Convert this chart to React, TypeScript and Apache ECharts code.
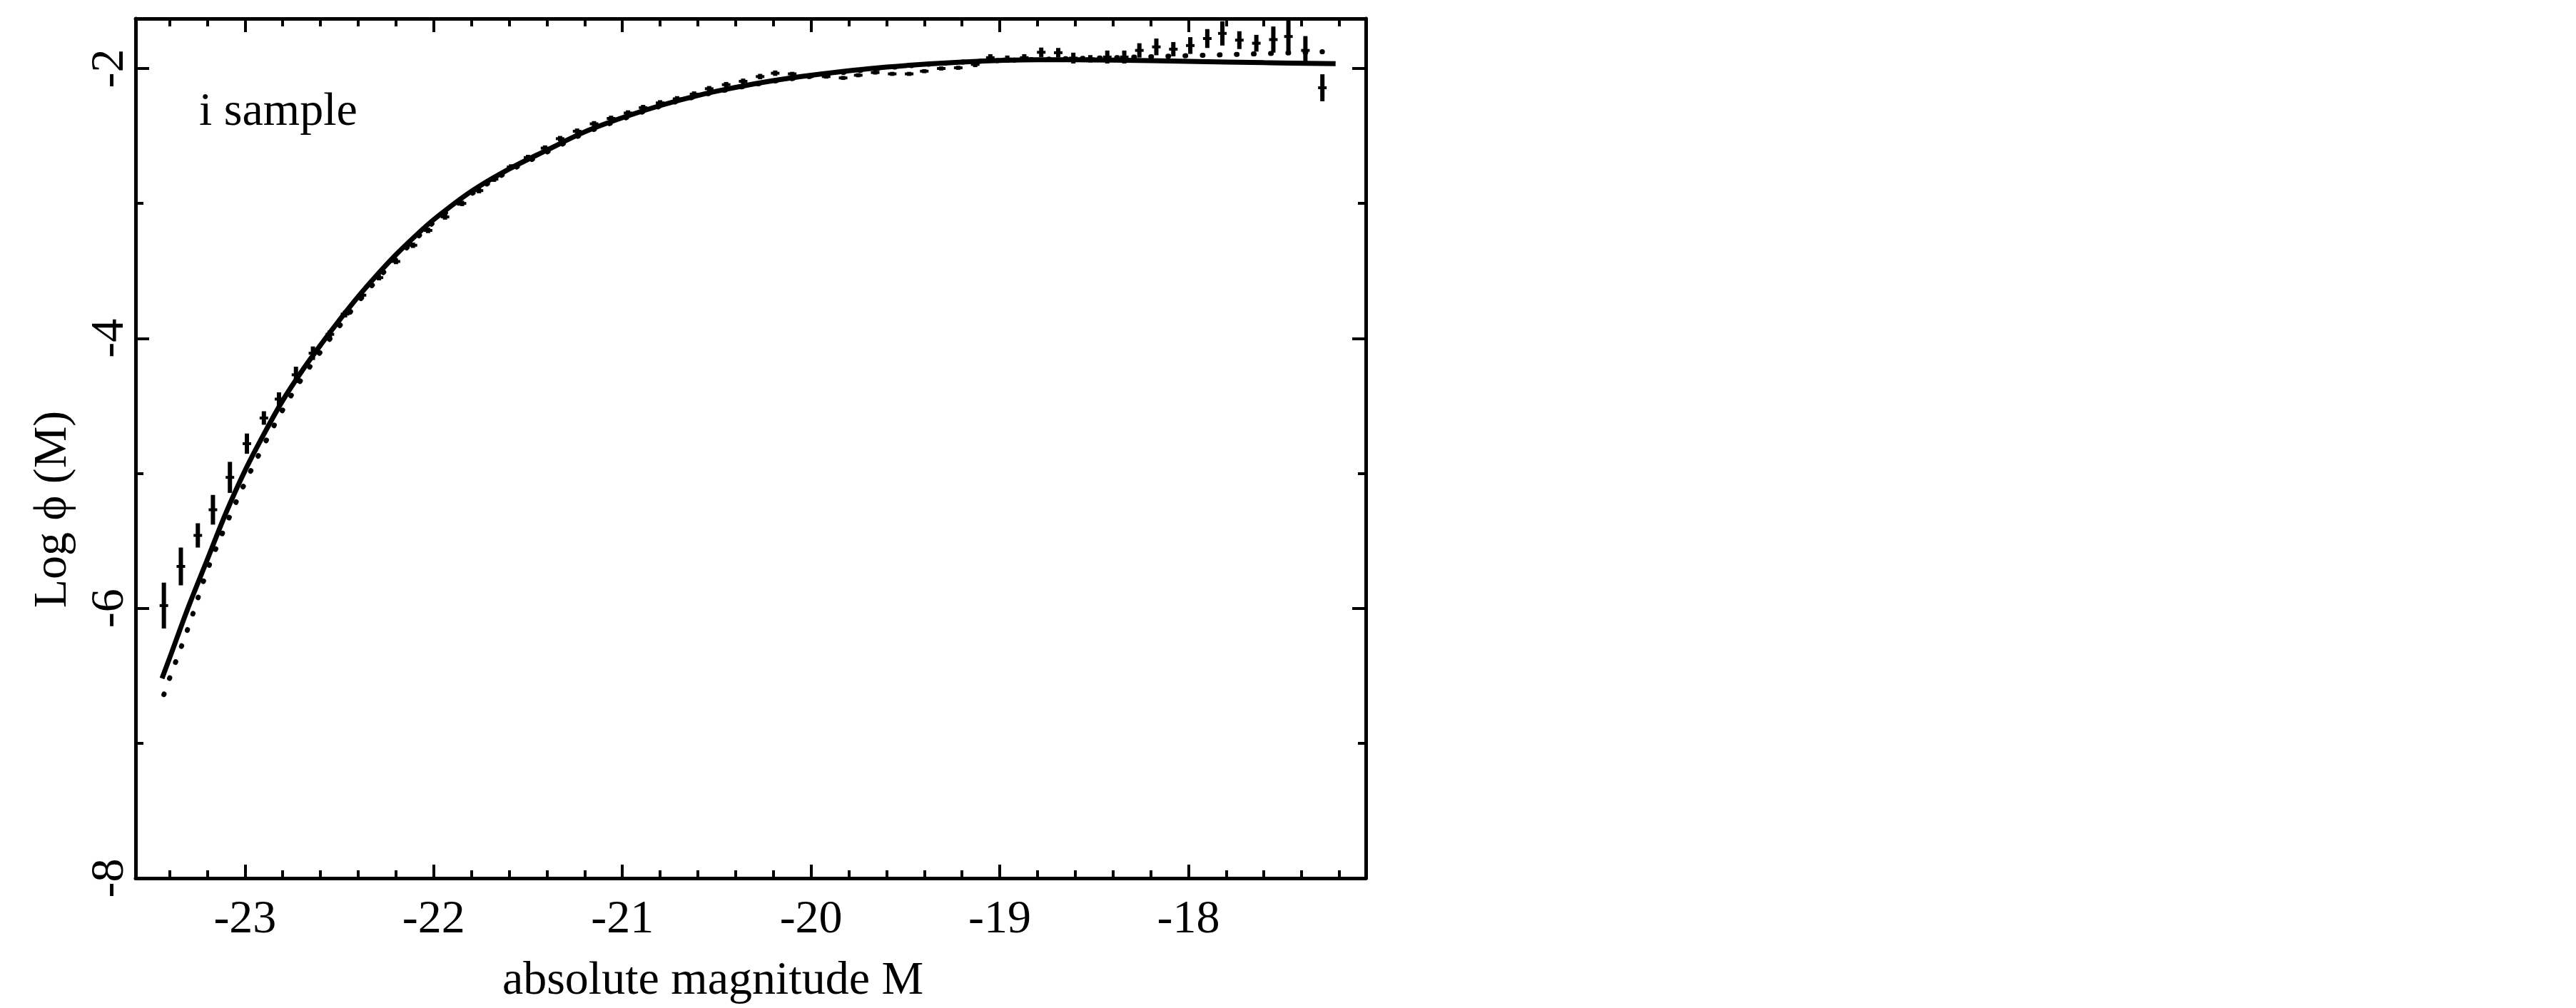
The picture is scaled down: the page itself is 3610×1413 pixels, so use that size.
import React, { useEffect, useRef } from "react";
import * as echarts from "echarts";

// ---------- data ----------
const xMin = -23.58;
const xMax = -17.06;
const yMin = -8;
const yMax = -1.63;

const xMajorTicks = [-23, -22, -21, -20, -19, -18];
const xMinorTicks = [
  -23.4, -23.2, -22.8, -22.6, -22.4, -22.2, -21.8, -21.6, -21.4, -21.2, -20.8, -20.6, -20.4,
  -20.2, -19.8, -19.6, -19.4, -19.2, -18.8, -18.6, -18.4, -18.2, -17.8, -17.6, -17.4, -17.2,
];
const yMajorTicks = [-8, -6, -4, -2];
const yMinorTicks = [-7, -5, -3];

// solid fit curve
const solidX = [
  -23.44, -23.4, -23.3, -23.2, -23.1, -23.0, -22.9, -22.8, -22.7, -22.6, -22.5, -22.4, -22.3, -22.2,
  -22.1, -22.0, -21.8, -21.6, -21.4, -21.2, -21.0, -20.8, -20.6, -20.4, -20.2, -20.0, -19.6, -19.2,
  -18.8, -18.4, -18.0, -17.6, -17.22,
];
const solidY = [
  -6.52, -6.37, -5.99, -5.64, -5.29, -4.98, -4.71, -4.46, -4.245, -4.05, -3.865, -3.69, -3.53, -3.38,
  -3.245, -3.12, -2.91, -2.745, -2.605, -2.47, -2.365, -2.275, -2.2, -2.14, -2.09, -2.05, -1.99,
  -1.952, -1.935, -1.938, -1.947, -1.957, -1.965,
];

// dotted fit curve
const dottedX = [
  -23.43, -23.4, -23.3, -23.2, -23.1, -23.0, -22.9, -22.8, -22.7, -22.6, -22.5, -22.4, -22.3, -22.2,
  -22.1, -22.0, -21.8, -21.6, -21.4, -21.2, -21.0, -20.8, -20.6, -20.4, -20.2, -20.0, -19.6, -19.2,
  -18.8, -18.4, -18.0, -17.6, -17.29,
];
const dottedY = [
  -6.64, -6.52, -6.14, -5.72, -5.38, -5.07, -4.79, -4.53, -4.3, -4.1, -3.91, -3.73, -3.565, -3.41,
  -3.27, -3.14, -2.93, -2.76, -2.62, -2.48, -2.375, -2.28, -2.205, -2.145, -2.095, -2.058, -1.995,
  -1.953, -1.933, -1.92, -1.905, -1.89, -1.876,
];

// data points with vertical error bars
const pointX = [
  -23.43, -23.34, -23.25, -23.17, -23.08, -22.99, -22.9, -22.82, -22.73, -22.64, -22.55, -22.47,
  -22.38, -22.29, -22.2, -22.11, -22.03, -21.94, -21.85, -21.76, -21.68, -21.59, -21.5, -21.41,
  -21.33, -21.24, -21.15, -21.06, -20.97, -20.89, -20.8, -20.71, -20.62, -20.54, -20.45, -20.36,
  -20.27, -20.19, -20.1, -20.01, -19.92, -19.83, -19.75, -19.66, -19.57, -19.48, -19.4, -19.31,
  -19.22, -19.13, -19.05, -18.96, -18.87, -18.78, -18.69, -18.61, -18.52, -18.43, -18.34, -18.26,
  -18.17, -18.08, -17.99, -17.9, -17.82, -17.73, -17.64, -17.55, -17.47, -17.38, -17.29,
];
const pointY = [
  -5.98, -5.69, -5.46, -5.27, -5.03, -4.78, -4.59, -4.45, -4.27, -4.11, -3.97, -3.82, -3.68, -3.55,
  -3.43, -3.31, -3.2, -3.1, -3.0, -2.905, -2.82, -2.73, -2.66, -2.59, -2.52, -2.465, -2.41, -2.37,
  -2.33, -2.29, -2.255, -2.225, -2.19, -2.15, -2.12, -2.095, -2.06, -2.035, -2.04, -2.06, -2.06,
  -2.07, -2.05, -2.03, -2.04, -2.04, -2.02, -2.0, -1.995, -1.97, -1.92, -1.93, -1.92, -1.88, -1.883,
  -1.923, -1.928, -1.915, -1.915, -1.866, -1.84, -1.857, -1.83, -1.778, -1.74, -1.79, -1.813,
  -1.786, -1.763, -1.866, -2.143,
];
const pointErr = [
  0.17, 0.14, 0.09, 0.11, 0.115, 0.075, 0.05, 0.05, 0.06, 0.05, 0.03, 0.025, 0.025, 0.02, 0.02, 0.02,
  0.02, 0.02, 0.02, 0.02, 0.02, 0.02, 0.02, 0.02, 0.02, 0.02, 0.02, 0.02, 0.02, 0.02, 0.02, 0.02,
  0.02, 0.02, 0.02, 0.02, 0.02, 0.02, 0.015, 0.015, 0.015, 0.015, 0.015, 0.015, 0.015, 0.015, 0.015,
  0.015, 0.015, 0.02, 0.026, 0.026, 0.026, 0.035, 0.035, 0.04, 0.027, 0.048, 0.048, 0.053, 0.062,
  0.053, 0.062, 0.07, 0.09, 0.066, 0.062, 0.097, 0.12, 0.106, 0.1,
];

const xTitle = "absolute magnitude M";
const yTitle = "Log \u03d5 (M)";
const sampleLabel = "i sample";

// ---------- style ----------
const FONT = "'Liberation Serif', 'Times New Roman', 'DejaVu Serif', serif";
const INK = "#000";
const FS = 66;

const frameAxis = (pos: string, ticks: number[], len: number, showLine: boolean, labels: boolean, extra: any = {}) => ({
  type: "value",
  position: pos,
  scale: true,
  axisLine: { show: showLine, onZero: false, lineStyle: { color: INK, width: 5 } },
  axisTick: { show: true, inside: true, length: len, customValues: ticks, lineStyle: { color: INK, width: 4 } },
  axisLabel: labels
    ? { show: true, customValues: ticks, color: INK, fontSize: FS, fontFamily: FONT, ...extra }
    : { show: false },
  splitLine: { show: false },
  minorTick: { show: false },
});

export default function App() {
  const ref = useRef<HTMLDivElement>(null);
  useEffect(() => {
    if (!ref.current) return;
    const chart = echarts.init(ref.current, null, { renderer: "svg" });
    const xBase = { min: xMin, max: xMax };
    const yBase = { min: yMin, max: yMax };
    const option: any = {
      animation: false,
      backgroundColor: "#fff",
      grid: { left: 190, right: 1696, top: 26, bottom: 182, containLabel: false },
      xAxis: [
        { ...frameAxis("bottom", xMajorTicks, 19, true, true, { margin: 20 }), ...xBase },
        { ...frameAxis("bottom", xMinorTicks, 11, false, false), ...xBase },
        { ...frameAxis("top", xMajorTicks, 19, true, false), ...xBase },
        { ...frameAxis("top", xMinorTicks, 11, false, false), ...xBase },
      ],
      yAxis: [
        { ...frameAxis("left", yMajorTicks, 19, true, true, { rotate: 90, margin: 8 }), ...yBase },
        { ...frameAxis("left", yMinorTicks, 11, false, false), ...yBase },
        { ...frameAxis("right", yMajorTicks, 19, true, false), ...yBase },
        { ...frameAxis("right", yMinorTicks, 11, false, false), ...yBase },
      ],
      graphic: [
        {
          type: "text",
          left: 279,
          top: 152 - FS / 2,
          style: { text: sampleLabel, fontSize: FS, fontFamily: FONT, fill: INK },
        },
        {
          type: "text",
          x: 999,
          y: 1370,
          style: { text: xTitle, fontSize: FS, fontFamily: FONT, fill: INK, align: "center", verticalAlign: "middle" },
        },
        {
          type: "text",
          x: 69,
          y: 714,
          rotation: Math.PI / 2,
          style: { text: yTitle, fontSize: FS, fontFamily: FONT, fill: INK, align: "center", verticalAlign: "middle" },
        },
      ],
      series: [
        {
          type: "line",
          name: "fit",
          xAxisIndex: 0,
          yAxisIndex: 0,
          data: solidX.map((x, i) => [x, solidY[i]]),
          showSymbol: false,
          symbol: "none",
          smooth: 0.35,
          lineStyle: { color: INK, width: 7 },
          z: 3,
        },
        {
          type: "line",
          name: "model",
          xAxisIndex: 0,
          yAxisIndex: 0,
          data: dottedX.map((x, i) => [x, dottedY[i]]),
          showSymbol: false,
          symbol: "none",
          smooth: 0.35,
          lineStyle: { color: INK, width: 7, type: [1, 23], cap: "round" },
          z: 2,
        },
        {
          type: "custom",
          name: "data",
          xAxisIndex: 0,
          yAxisIndex: 0,
          encode: { x: 0, y: 1 },
          data: pointX.map((x, i) => [x, pointY[i], pointErr[i]]),
          renderItem: (params: any, api: any) => {
            const x = api.value(0);
            const y = api.value(1);
            const e = api.value(2);
            const top = api.coord([x, y + e]);
            const bot = api.coord([x, y - e]);
            const c = api.coord([x, y]);
            return {
              type: "group",
              children: [
                {
                  type: "line",
                  shape: { x1: top[0], y1: top[1], x2: bot[0], y2: bot[1] },
                  style: { stroke: INK, lineWidth: 6 },
                },
                {
                  type: "line",
                  shape: { x1: c[0] - 6, y1: c[1], x2: c[0] + 6, y2: c[1] },
                  style: { stroke: INK, lineWidth: 4 },
                },
              ],
            };
          },
          z: 4,
        },
      ],
    };
    chart.setOption(option);
    return () => chart.dispose();
  }, []);
  return (
    <div
      ref={ref}
      style={{ position: "fixed", left: 0, top: 0, width: 3610, height: 1413, background: "#fff" }}
    />
  );
}
